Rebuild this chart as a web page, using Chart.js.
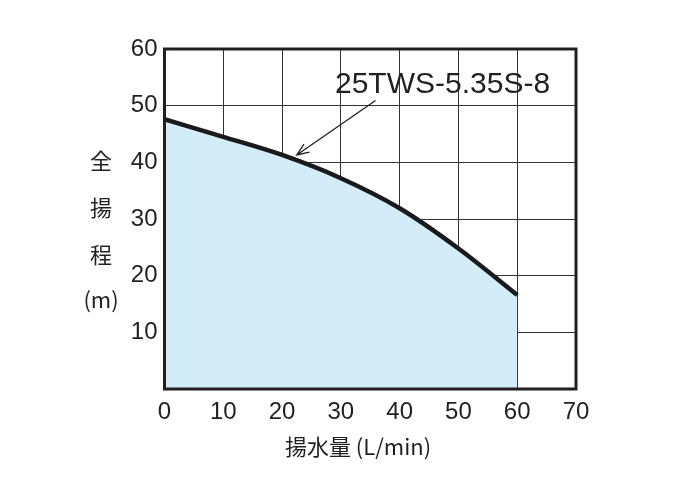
<!DOCTYPE html>
<html>
<head>
<meta charset="utf-8">
<script src="https://cdn.jsdelivr.net/npm/chart.js@4/dist/chart.umd.min.js"></script>
<style>
  html, body { margin: 0; padding: 0; background: #fff; }
  #wrap { width: 700px; height: 494px; }
</style>
</head>
<body>
<div id="wrap"><canvas id="pumpChart"></canvas></div>
<script>
// flow (L/min) vs total head (m)
const flow = [0, 10, 20, 30, 40, 50, 60];
const head = [47.6, 44.5, 41.3, 37.2, 31.9, 24.8, 16.6];

const xTicks = [0, 10, 20, 30, 40, 50, 60, 70];
const yTicks = [10, 20, 30, 40, 50, 60];

const modelName = "25TWS-5.35S-8";
const xTitle = "揚水量 (L/min)";
const yTitle = ["全", "揚", "程", "(m)"];

const ink = "#231f20";
const latin = "'Liberation Sans', Arial, sans-serif";
const cjk = "'Noto Sans CJK JP', 'Liberation Sans', sans-serif";

const extras = {
    id: "extras",
    afterDraw(chart) {
        const { ctx, chartArea: a, scales } = chart;
        const xs = scales.x, ys = scales.y;
        ctx.save();

        // frame
        ctx.strokeStyle = ink;
        ctx.lineWidth = 3;
        ctx.strokeRect(a.left, a.top, a.right - a.left, a.bottom - a.top);

        // model label + arrow
        ctx.fillStyle = ink;
        ctx.font = "30px " + latin;
        ctx.textAlign = "left";
        ctx.textBaseline = "alphabetic";
        ctx.fillText(modelName, xs.getPixelForValue(29), ys.getPixelForValue(52.2));

        const x1 = xs.getPixelForValue(35.9), y1 = ys.getPixelForValue(50.9);
        const x2 = xs.getPixelForValue(22.5), y2 = ys.getPixelForValue(41.3);
        ctx.lineWidth = 1.3;
        ctx.beginPath();
        ctx.moveTo(x1, y1);
        ctx.lineTo(x2, y2);
        const ang = Math.atan2(y2 - y1, x2 - x1);
        const len = 13, spread = 0.38;
        ctx.moveTo(x2 - len * Math.cos(ang - spread), y2 - len * Math.sin(ang - spread));
        ctx.lineTo(x2, y2);
        ctx.lineTo(x2 - len * Math.cos(ang + spread), y2 - len * Math.sin(ang + spread));
        ctx.stroke();

        // axis titles
        ctx.fillStyle = ink;
        ctx.textAlign = "center";
        ctx.textBaseline = "middle";
        ctx.font = "22px " + cjk;
        ctx.fillText(xTitle, 358, 447);

        const yPos = [161, 208, 255, 300];
        yTitle.forEach((t, i) => {
            ctx.fillText(t, 101, yPos[i]);
        });
        ctx.restore();
    }
};

new Chart(document.getElementById("pumpChart"), {
    type: "line",
    data: {
        datasets: [{
            data: flow.map((f, i) => ({ x: f, y: head[i] })),
            borderColor: "#1a1a1a",
            borderWidth: 4.5,
            backgroundColor: "#d4ecf8",
            fill: "origin",
            pointRadius: 0,
            cubicInterpolationMode: "monotone",
        }],
    },
    options: {
        responsive: true,
        maintainAspectRatio: false,
        animation: false,
        layout: { padding: { top: 49, right: 124, left: 0, bottom: 0 } },
        plugins: {
            legend: { display: false },
            tooltip: { enabled: false },
        },
        scales: {
            x: {
                type: "linear",
                min: 0,
                max: 70,
                afterBuildTicks: (s) => { s.ticks = xTicks.map(v => ({ value: v })); },
                afterFit: (s) => { s.height = 105; },
                grid: { color: "#333", lineWidth: 1, drawTicks: false },
                border: { display: false },
                ticks: {
                    color: ink,
                    padding: 9,
                    font: { family: latin, size: 24 },
                    maxRotation: 0,
                },
            },
            y: {
                min: 0,
                max: 60,
                afterBuildTicks: (s) => { s.ticks = [0].concat(yTicks).map(v => ({ value: v })); },
                afterFit: (s) => { s.width = 164.5; },
                grid: { color: "#333", lineWidth: 1, drawTicks: false },
                border: { display: false },
                ticks: {
                    color: ink,
                    padding: 7,
                    font: { family: latin, size: 24 },
                    callback: (v) => (v === 0 ? "" : v),
                },
            },
        },
    },
    plugins: [extras],
});
</script>
</body>
</html>
